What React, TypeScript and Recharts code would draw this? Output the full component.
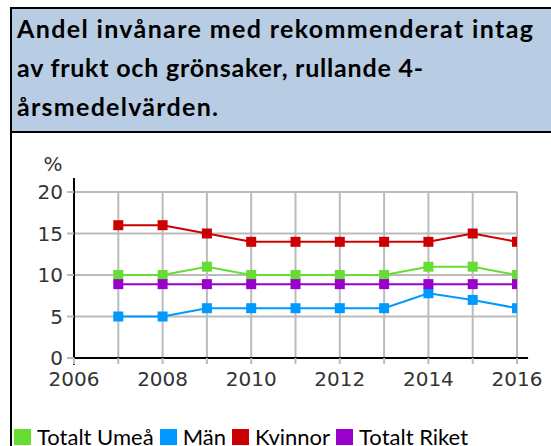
import React from 'react';
import { LineChart, Line, XAxis, YAxis, CartesianGrid, ReferenceLine } from 'recharts';

const years = [2007, 2008, 2009, 2010, 2011, 2012, 2013, 2014, 2015, 2016];
const totaltUmea = [10, 10, 11, 10, 10, 10, 10, 11, 11, 10];
const man = [5, 5, 6, 6, 6, 6, 6, 7.8, 7, 6];
const kvinnor = [16, 16, 15, 14, 14, 14, 14, 14, 15, 14];
const totaltRiket = [8.9, 8.9, 8.9, 8.9, 8.9, 8.9, 8.9, 8.9, 8.9, 8.9];

const seriesNames = ['Totalt Umeå', 'Män', 'Kvinnor', 'Totalt Riket'];
const seriesKeys = ['umea', 'man', 'kvinnor', 'riket'];
const seriesColors = ['#66dd33', '#0099ff', '#cc0000', '#9900cc'];

const xTicks = [2006, 2007, 2008, 2009, 2010, 2011, 2012, 2013, 2014, 2015, 2016];
const yTicks = [0, 5, 10, 15, 20];
const xDomain = [2006, 2016];
const yDomain = [0, 20];
const yUnit = '%';

const titleLines = [
  'Andel invånare med rekommenderat intag',
  'av frukt och grönsaker, rullande 4-',
  'årsmedelvärden.',
];
const titleLineWidths = [516, 406, 201];

const data = years.map((year, i) => ({
  year,
  umea: totaltUmea[i],
  man: man[i],
  kvinnor: kvinnor[i],
  riket: totaltRiket[i],
}));

const AXIS_FONT = '"DejaVu Sans", Verdana, sans-serif';
const TEXT_FONT = 'Lato, "Open Sans", sans-serif';
const GRID = '#bbbbbb';

const makeSquareDot = (color: string) => (props: any) => {
  const { cx, cy, index } = props;
  if (cx == null || cy == null) return <g key={`e-${index}`} />;
  return <rect key={`d-${index}`} x={cx - 5} y={cy - 5} width={10} height={10} fill={color} />;
};

export default function App() {
  return (
    <div
      style={{
        position: 'absolute',
        left: 0,
        top: 0,
        width: 551,
        height: 446,
        background: '#ffffff',
        overflow: 'hidden',
      }}
    >
      <div style={{ position: 'absolute', left: 0, top: 0 }}>
        <LineChart
          width={551}
          height={446}
          data={data}
          margin={{ top: 192, right: 34, bottom: 58, left: 0 }}
        >
          <CartesianGrid stroke={GRID} strokeWidth={2} vertical horizontal />
          <XAxis
            dataKey="year"
            type="number"
            domain={xDomain}
            ticks={xTicks}
            allowDataOverflow
            interval={0}
            height={30}
            axisLine={false}
            tickLine={{ stroke: GRID, strokeWidth: 2 }}
            tickSize={6}
            tickMargin={8}
            tick={{ fill: '#333333', fontSize: 20, fontFamily: AXIS_FONT }}
            tickFormatter={(v: number) => (v % 2 === 0 ? String(v) : '')}
          />
          <YAxis
            type="number"
            domain={yDomain}
            ticks={yTicks}
            width={74}
            interval={0}
            axisLine={false}
            tickLine={{ stroke: GRID, strokeWidth: 2 }}
            tickSize={7}
            tickMargin={4}
            tick={{ fill: '#333333', fontSize: 20, fontFamily: AXIS_FONT }}
            label={{
              value: yUnit,
              position: 'top',
              offset: 21,
              dx: 16,
              fill: '#333333',
              fontSize: 20,
              fontFamily: AXIS_FONT,
            }}
          />
          <ReferenceLine
            segment={[
              { x: 2006, y: -0.8 },
              { x: 2006, y: 21.7 },
            ]}
            stroke="#000000"
            strokeWidth={2}
            ifOverflow="visible"
          />
          <ReferenceLine
            segment={[
              { x: 2006, y: 0 },
              { x: 2016.25, y: 0 },
            ]}
            stroke="#000000"
            strokeWidth={2}
            ifOverflow="visible"
          />
          {seriesKeys.map((k, i) => (
            <Line
              key={k}
              dataKey={k}
              name={seriesNames[i]}
              type="linear"
              stroke={seriesColors[i]}
              strokeWidth={2}
              dot={makeSquareDot(seriesColors[i])}
              activeDot={false}
              isAnimationActive={false}
            />
          ))}
        </LineChart>
      </div>

      {/* header */}
      <div style={{ position: 'absolute', left: 12, top: 9, width: 539, height: 122, background: '#b8cce4' }} />
      <div style={{ position: 'absolute', left: 10, top: 7, width: 541, height: 2, background: '#000' }} />
      <div style={{ position: 'absolute', left: 10, top: 131, width: 541, height: 2, background: '#000' }} />
      <div style={{ position: 'absolute', left: 10, top: 7, width: 2, height: 439, background: '#000' }} />
      <svg style={{ position: 'absolute', left: 0, top: 0 }} width={551} height={135}>
        {titleLines.map((t, i) => (
          <text
            key={i}
            x={17}
            y={37.5 + i * 39}
            fontFamily={TEXT_FONT}
            fontWeight={700}
            fontSize={25}
            fill="#000"
            textLength={titleLineWidths[i]}
            lengthAdjust="spacing"
          >
            {t}
          </text>
        ))}
      </svg>

      {/* legend */}
      <div
        style={{
          position: 'absolute',
          left: 14,
          top: 428,
          display: 'flex',
          alignItems: 'center',
          fontFamily: TEXT_FONT,
          fontSize: 22,
          color: '#000',
          whiteSpace: 'nowrap',
          lineHeight: '18px',
          height: 18,
        }}
      >
        {seriesNames.map((n, i) => (
          <div key={n} style={{ display: 'flex', alignItems: 'center', marginRight: 6 }}>
            <span
              style={{ display: 'inline-block', width: 17, height: 16, background: seriesColors[i], marginRight: 6 }}
            />
            <span>{n}</span>
          </div>
        ))}
      </div>
    </div>
  );
}
